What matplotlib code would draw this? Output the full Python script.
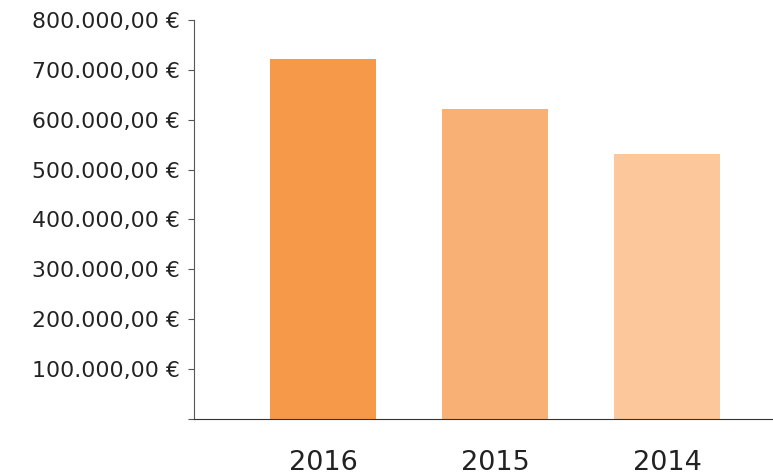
import matplotlib.pyplot as plt
import numpy as np

jahre = ['2016', '2015', '2014']
umsatz = [721000, 621000, 531000]
farben = ['#F69A4A', '#F9B074', '#FBC79B']
y_ticks = [0, 100000, 200000, 300000, 400000, 500000, 600000, 700000, 800000]


def euro(v):
    if v == 0:
        return ''
    s = f'{v:,.2f}'.replace(',', 'X').replace('.', ',').replace('X', '.')
    return s + ' €'


plt.rcParams['font.family'] = ['DejaVu Sans']

fig = plt.figure(figsize=(7.73, 4.75), dpi=100)
ax = fig.add_axes([0.251, 0.118, 0.749, 0.840])

x = np.arange(len(jahre))
ax.bar(x, umsatz, width=0.616, color=farben)

ax.set_xlim(-0.75, 2.616)
ax.set_ylim(0, 800000)
ax.set_yticks(y_ticks)
ax.set_yticklabels([euro(v) for v in y_ticks])
ax.set_xticks(x)
ax.set_xticklabels(jahre)

ax.spines['top'].set_visible(False)
ax.spines['right'].set_visible(False)
ax.spines['left'].set_color('#555555')
ax.spines['bottom'].set_color('#333333')
ax.tick_params(axis='y', length=4.5, color='#555555', labelsize=15.8, labelcolor='#222222', pad=6)
ax.tick_params(axis='x', length=0, labelsize=19.5, labelcolor='#222222', pad=22)

plt.savefig('out.png')
